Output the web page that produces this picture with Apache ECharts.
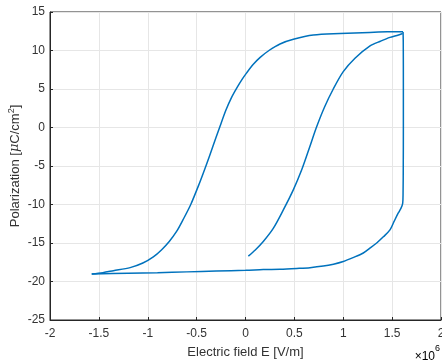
<!DOCTYPE html>
<html>
<head>
<meta charset="utf-8">
<script src="https://cdn.jsdelivr.net/npm/echarts@6/dist/echarts.min.js"></script>
<style>
  html, body { margin: 0; padding: 0; background: #fff; }
  #chart { width: 442px; height: 364px; }
</style>
</head>
<body>
<div id="chart"></div>
<script>
// electric field in units of 1e6 V/m, polarization in uC/cm^2

// first branch: from E=0 up to the positive tip
const riseE = [0.029, 0.10, 0.182, 0.284, 0.387, 0.489, 0.575, 0.655, 0.725, 0.81, 0.898, 1.0, 1.12, 1.274, 1.38, 1.478, 1.55, 1.608]
const riseP = [-16.7, -15.9, -14.8, -13.1, -10.7, -8.1, -5.5, -2.6, 0.0, 2.7, 5.0, 7.25, 9.0, 10.6, 11.2, 11.7, 11.95, 12.2]

// falling branch: down the right edge and back along the bottom
const fallE = [1.612, 1.614, 1.615, 1.615, 1.614, 1.612, 1.608, 1.59, 1.563, 1.52, 1.478, 1.41, 1.342, 1.27, 1.205, 1.10, 1.0, 0.90, 0.796, 0.66, 0.524, 0.353, 0.182, 0.0, -0.3, -0.6, -0.9, -1.2, -1.573]
const fallP = [12.4, 11.0, 5.0, 0.0, -5.0, -8.5, -9.85, -10.5, -11.1, -12.2, -13.3, -14.2, -15.0, -15.7, -16.3, -16.9, -17.4, -17.75, -18.0, -18.2, -18.3, -18.4, -18.45, -18.55, -18.65, -18.75, -18.85, -18.93, -19.03]

// rising branch: from the negative tip back up to the positive tip
const upE = [-1.573, -1.46, -1.352, -1.18, -1.05, -0.943, -0.86, -0.78, -0.705, -0.64, -0.56, -0.47, -0.405, -0.335, -0.265, -0.20, -0.141, -0.084, -0.03, 0.012, 0.08, 0.15, 0.24, 0.353, 0.49, 0.694, 0.967, 1.27, 1.45, 1.612]
const upP = [-19.03, -18.85, -18.6, -18.2, -17.6, -16.8, -15.9, -14.8, -13.5, -12.0, -10.0, -7.2, -5.0, -2.5, 0.0, 2.27, 3.95, 5.25, 6.35, 7.1, 8.2, 9.1, 10.0, 10.85, 11.45, 12.0, 12.2, 12.35, 12.42, 12.45]

const xRange = [-2, 2, 0.5]
const yRange = [-25, 15, 5]

const chart = echarts.init(document.getElementById('chart'))
const font = 'Liberation Sans, Arial, sans-serif'
const axisColor = '#262626'
const textColor = '#333'
const lineColor = '#0072BD'

const pairs = (xs, ys) => xs.map((x, i) => [x, ys[i]])
const branch = (data) => ({
  type: 'line',
  data: data,
  showSymbol: false,
  smooth: 0.3,
  lineStyle: { color: lineColor, width: 1.5 }
})

chart.setOption({
  animation: false,
  grid: {
    left: 50, right: 1, top: 12, bottom: 44,
    outerBoundsMode: 'none',
    show: true, borderColor: axisColor, borderWidth: 1
  },
  xAxis: {
    type: 'value',
    min: xRange[0], max: xRange[1], interval: xRange[2],
    name: 'Electric field E [V/m]',
    nameLocation: 'middle', nameGap: 26, nameMoveOverlap: false,
    nameTextStyle: { fontFamily: font, fontSize: 13, color: textColor },
    axisLine: { onZero: false, lineStyle: { color: axisColor } },
    axisTick: { inside: true, length: 3, lineStyle: { color: axisColor } },
    axisLabel: { fontFamily: font, fontSize: 12, color: textColor, margin: 8 },
    splitLine: { lineStyle: { color: '#e6e6e6' } }
  },
  yAxis: {
    type: 'value',
    min: yRange[0], max: yRange[1], interval: yRange[2],
    name: '{n|Polarization [}{i|μ}{n|C/cm}{s|2}{n|]}',
    nameLocation: 'middle', nameGap: 27, nameRotate: 90, nameMoveOverlap: false,
    nameTextStyle: {
      rich: {
        n: { fontFamily: font, fontSize: 13, color: textColor },
        i: { fontFamily: 'DejaVu Serif, serif', fontStyle: 'italic', fontSize: 13, color: textColor },
        s: { fontFamily: font, fontSize: 9, color: textColor, verticalAlign: 'top', padding: [0, 0, 7, 0] }
      }
    },
    axisLine: { onZero: false, lineStyle: { color: axisColor } },
    axisTick: { inside: true, length: 3, lineStyle: { color: axisColor } },
    axisLabel: { fontFamily: font, fontSize: 12, color: textColor, margin: 5 },
    splitLine: { lineStyle: { color: '#e6e6e6' } }
  },
  graphic: [{
    type: 'text',
    right: 2, top: 344,
    style: {
      text: '{n|×10}{s|6}',
      rich: {
        n: { fontFamily: font, fontSize: 12, color: textColor, padding: [7, 0, 0, 0] },
        s: { fontFamily: font, fontSize: 9, color: textColor, verticalAlign: 'top' }
      }
    }
  }],
  series: [
    branch(pairs(riseE, riseP)),
    branch(pairs(fallE, fallP)),
    branch(pairs(upE, upP))
  ]
})
</script>
</body>
</html>
